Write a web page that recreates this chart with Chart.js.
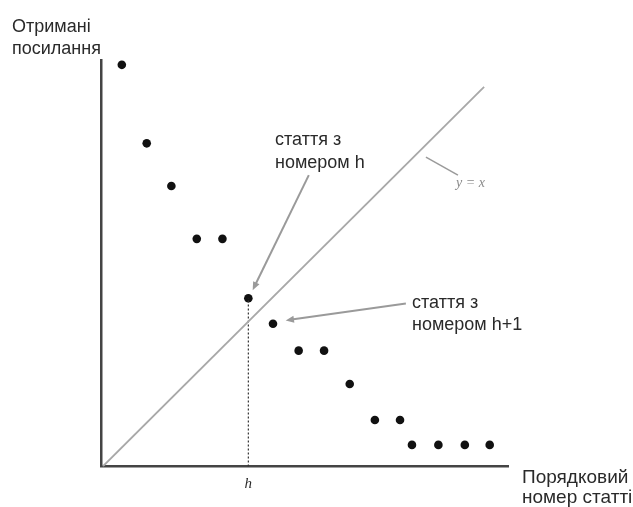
<!DOCTYPE html>
<html>
<head>
<meta charset="utf-8">
<script src="https://cdn.jsdelivr.net/npm/chart.js@4.4.0/dist/chart.umd.min.js"></script>
<style>
  body { margin: 0; background: #fff; }
  #wrap { width: 633px; height: 507px; }
</style>
</head>
<body>
<div id="wrap"><canvas id="hChart" width="633" height="507"></canvas></div>
<script>
// article rank (x) and citations received (y)
const ranks = [0.80, 1.78, 2.75, 3.75, 4.76, 5.78, 6.75, 7.76, 8.76, 9.77, 10.76, 11.75, 12.22, 13.26, 14.30, 15.28];
const cites = [15.81, 12.72, 11.04, 8.96, 8.96, 6.62, 5.62, 4.56, 4.56, 3.25, 1.83, 1.83, 0.85, 0.85, 0.85, 0.85];
const diagX = [0.05, 15.06];
const diagY = [0, 14.94];
const hRank = 5.78;
const hCites = 6.62;

const yLabel = ['Отримані', 'посилання'];
const xLabel = ['Порядковий', 'номер статті'];
const noteH = ['стаття з', 'номером h'];
const noteH1 = ['стаття з', 'номером h+1'];

// arrows: [fromX, fromY, toX, toY] in data units
const arrows = [
  [8.16, 11.47, 5.95, 6.94],
  [11.98, 6.42, 7.25, 5.75]
];
const leader = [12.77, 12.18, 14.03, 11.47];

const points = ranks.map((r, i) => ({ x: r, y: cites[i] }));
const diag = diagX.map((v, i) => ({ x: v, y: diagY[i] }));

function arrowHead(ctx, x1, y1, x2, y2, size) {
  const a = Math.atan2(y2 - y1, x2 - x1);
  ctx.beginPath();
  ctx.moveTo(x2, y2);
  ctx.lineTo(x2 - size * Math.cos(a - 0.4), y2 - size * Math.sin(a - 0.4));
  ctx.lineTo(x2 - size * Math.cos(a + 0.4), y2 - size * Math.sin(a + 0.4));
  ctx.closePath();
  ctx.fill();
}

const notes = {
  id: 'notes',
  afterDraw(chart) {
    const ctx = chart.ctx;
    const sx = chart.scales.x, sy = chart.scales.y;
    ctx.save();
    ctx.strokeStyle = '#9a9a9a';
    ctx.fillStyle = '#9a9a9a';
    ctx.lineWidth = 2;
    arrows.forEach(a => {
      const x1 = sx.getPixelForValue(a[0]), y1 = sy.getPixelForValue(a[1]);
      const x2 = sx.getPixelForValue(a[2]), y2 = sy.getPixelForValue(a[3]);
      const ang = Math.atan2(y2 - y1, x2 - x1);
      ctx.beginPath();
      ctx.moveTo(x1, y1);
      ctx.lineTo(x2 - 6 * Math.cos(ang), y2 - 6 * Math.sin(ang));
      ctx.stroke();
      arrowHead(ctx, x1, y1, x2, y2, 9);
    });
    ctx.lineWidth = 1.5;
    ctx.beginPath();
    ctx.moveTo(sx.getPixelForValue(leader[0]), sy.getPixelForValue(leader[1]));
    ctx.lineTo(sx.getPixelForValue(leader[2]), sy.getPixelForValue(leader[3]));
    ctx.stroke();

    ctx.fillStyle = '#2a2a2a';
    ctx.font = '18px "Liberation Sans", Arial, sans-serif';
    ctx.textBaseline = 'alphabetic';
    ctx.textAlign = 'left';
    ctx.fillText(yLabel[0], 12, 32);
    ctx.fillText(yLabel[1], 12, 54);
    ctx.fillText(noteH[0], 275, 145);
    ctx.fillText(noteH[1], 275, 168);
    ctx.fillText(noteH1[0], 412, 308);
    ctx.fillText(noteH1[1], 412, 330);
    ctx.font = '19px "Liberation Sans", Arial, sans-serif';
    ctx.fillText(xLabel[0], 522, 483);
    ctx.fillText(xLabel[1], 522, 503);

    ctx.font = 'italic 15px "Liberation Serif", "DejaVu Serif", serif';
    ctx.textAlign = 'center';
    ctx.fillText('h', sx.getPixelForValue(hRank), 488);

    ctx.fillStyle = '#8a8a8a';
    ctx.font = 'italic 14px "Liberation Serif", "DejaVu Serif", serif';
    ctx.textAlign = 'left';
    ctx.fillText('y = x', 456, 187);
    ctx.restore();
  }
};

new Chart(document.getElementById('hChart'), {
  type: 'scatter',
  data: {
    datasets: [
      {
        data: diag,
        showLine: true,
        borderColor: '#a8a8a8',
        borderWidth: 1.8,
        pointRadius: 0
      },
      {
        data: [{ x: hRank, y: 0 }, { x: hRank, y: hCites }],
        showLine: true,
        borderColor: '#333',
        borderWidth: 1.2,
        borderDash: [2, 2],
        pointRadius: 0
      },
      {
        data: points,
        pointRadius: 4.3,
        pointBackgroundColor: '#111',
        pointBorderWidth: 0
      }
    ]
  },
  options: {
    responsive: false,
    animation: false,
    layout: { padding: { left: 101.5, right: 125, top: 60, bottom: 40.5 } },
    plugins: { legend: { display: false }, tooltip: { enabled: false } },
    scales: {
      x: {
        type: 'linear', min: 0, max: 16,
        ticks: { display: false },
        grid: { display: false },
        border: { display: true, color: '#444', width: 2.5 },
        afterFit: s => { s.height = 0; }
      },
      y: {
        type: 'linear', min: 0, max: 16,
        ticks: { display: false },
        grid: { display: false },
        border: { display: true, color: '#444', width: 2.5 },
        afterFit: s => { s.width = 0; }
      }
    }
  },
  plugins: [notes]
});
</script>
</body>
</html>
